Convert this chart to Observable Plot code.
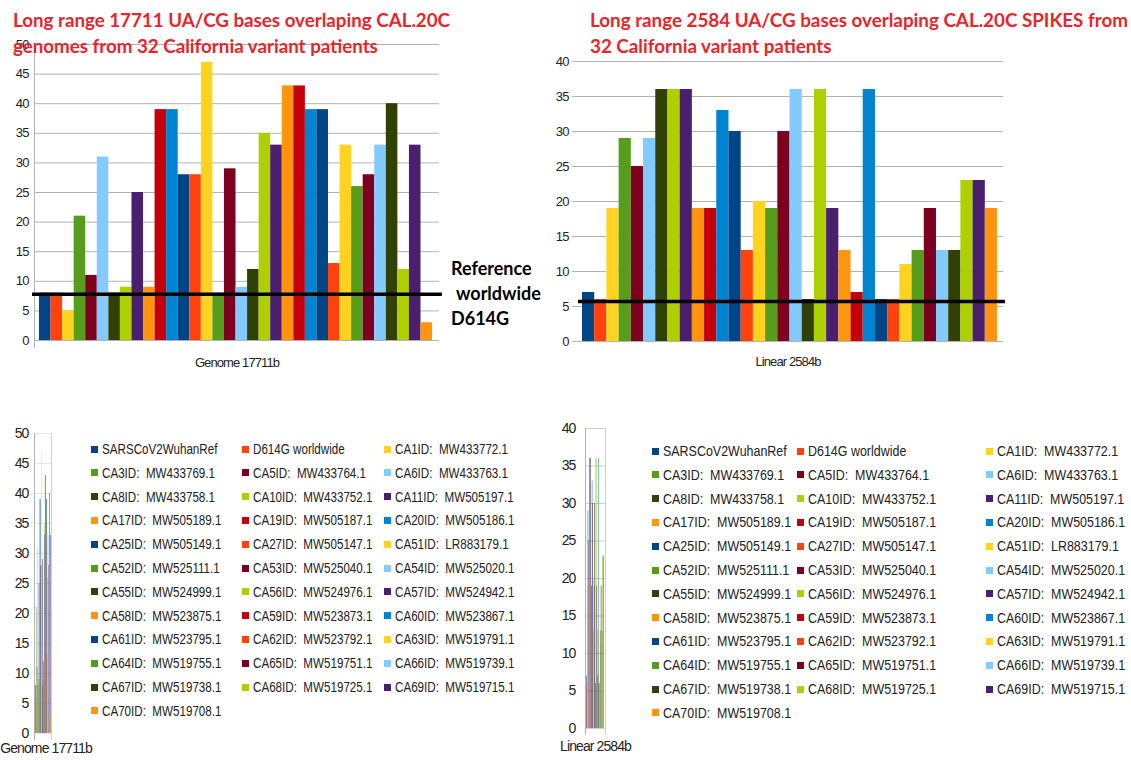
<!DOCTYPE html>
<html>
<head>
<meta charset="utf-8">
<script src="https://cdn.jsdelivr.net/npm/d3@7"></script>
<script src="https://cdn.jsdelivr.net/npm/@observablehq/plot@0.6"></script>
<style>
  html, body { margin: 0; padding: 0; background: #fff; }
  #root { position: relative; width: 1131px; height: 760px; overflow: hidden; background: #fff; }
  .abs { position: absolute; }
  .title { font-family: "Lato", "Open Sans", sans-serif; font-weight: 700; color: #e8252b; font-size: 18px; line-height: 26px; white-space: nowrap; transform-origin: 0 0; }
  .ref { font-family: "Lato", "Open Sans", sans-serif; font-weight: 700; color: #000; font-size: 18px; line-height: 25px; white-space: nowrap; }
  .sw { position: absolute; width: 7px; height: 7px; }
  .lt { position: absolute; font-family: "Liberation Sans", Arial, sans-serif; font-size: 14px; line-height: 16px; color: #222; white-space: pre; transform-origin: 0 50%; }
  svg { overflow: visible; }
</style>
</head>
<body>
<div id="root"></div>
<script>
// ---------- data ----------
const series = [
  "SARSCoV2WuhanRef", "D614G worldwide", "CA1ID:  MW433772.1",
  "CA3ID:  MW433769.1", "CA5ID:  MW433764.1", "CA6ID:  MW433763.1",
  "CA8ID:  MW433758.1", "CA10ID:  MW433752.1", "CA11ID:  MW505197.1",
  "CA17ID:  MW505189.1", "CA19ID:  MW505187.1", "CA20ID:  MW505186.1",
  "CA25ID:  MW505149.1", "CA27ID:  MW505147.1", "CA51ID:  LR883179.1",
  "CA52ID:  MW525111.1", "CA53ID:  MW525040.1", "CA54ID:  MW525020.1",
  "CA55ID:  MW524999.1", "CA56ID:  MW524976.1", "CA57ID:  MW524942.1",
  "CA58ID:  MW523875.1", "CA59ID:  MW523873.1", "CA60ID:  MW523867.1",
  "CA61ID:  MW523795.1", "CA62ID:  MW523792.1", "CA63ID:  MW519791.1",
  "CA64ID:  MW519755.1", "CA65ID:  MW519751.1", "CA66ID:  MW519739.1",
  "CA67ID:  MW519738.1", "CA68ID:  MW519725.1", "CA69ID:  MW519715.1",
  "CA70ID:  MW519708.1"
];
const genome17711 = [8, 8, 5, 21, 11, 31, 8, 9, 25, 9, 39, 39, 28, 28, 47, 8, 29, 9, 12, 35, 33, 43, 43, 39, 39, 13, 33, 26, 28, 33, 40, 12, 33, 3];
const linear2584  = [7, 6, 19, 29, 25, 29, 36, 36, 36, 19, 19, 33, 30, 13, 20, 19, 30, 36, 6, 36, 19, 13, 7, 36, 6, 6, 11, 13, 19, 13, 13, 23, 23, 19];
const ticksGenome = [0, 5, 10, 15, 20, 25, 30, 35, 40, 45, 50];
const ticksLinear = [0, 5, 10, 15, 20, 25, 30, 35, 40];
const refGenome = 7.8;
const refLinear = 5.7;
const labelGenome = "Genome 17711b";
const labelLinear = "Linear 2584b";
const titleGenome = ["Long range 17711 UA/CG bases overlaping CAL.20C", "genomes from 32 California variant patients"];
const titleLinear = ["Long range 2584 UA/CG bases overlaping CAL.20C SPIKES from", "32 California variant patients"];
const refText = ["Reference", "worldwide", "D614G"];
const palette = ["#004586", "#ff420e", "#ffd320", "#579d1c", "#7e0021", "#83caff", "#314004", "#aecf00", "#4b1f6f", "#ff950e", "#c5000b", "#0084d1"];
const colors = series.map((_, i) => palette[i % palette.length]);

// ---------- chart builder ----------
function chart(o) {
  const data = series.map((name, i) => ({name, i, v: o.values[i]}));
  const marks = [];
  marks.push(Plot.gridY(o.ticks, {stroke: o.gridColor, strokeOpacity: 1, strokeWidth: 1}));
  for (const vl of o.vlines) {
    marks.push(Plot.ruleX([vl.x], {x: d => d, y1: () => vl.y1, y2: () => vl.y2, stroke: vl.stroke, strokeWidth: 1}));
  }
  marks.push(Plot.rectY(data, {x1: d => d.i - 0.5, x2: d => d.i + 0.5, y: "v", fill: "name"}));
  marks.push(Plot.axisY(o.ticks, {tickSize: 0, tickPadding: o.tickPadding, label: null, fill: "#222"}));
  if (o.ref != null) {
    marks.push(Plot.ruleY([o.ref], {y: d => d, x1: () => o.refX[0], x2: () => o.refX[1], stroke: "#000", strokeWidth: 3.5}));
  }
  marks.push(Plot.text([o.label], {text: d => d, frameAnchor: "bottom", dx: o.labelDx || 0, dy: o.labelDy, fill: "#222", fontSize: o.labelSize}));
  return Plot.plot({
    width: o.width, height: o.height,
    marginLeft: o.ml, marginRight: o.mr, marginTop: o.mt, marginBottom: o.mb,
    x: {domain: o.xDomain, axis: null},
    y: {domain: [0, o.yMax], axis: null},
    color: {domain: series, range: colors},
    marks,
    style: {fontFamily: "'Liberation Sans', Arial, sans-serif", fontSize: o.fontSize + "px", letterSpacing: "-0.9px", background: "transparent", overflow: "visible"}
  });
}

const root = document.getElementById("root");
function place(el, left, top) {
  const d = document.createElement("div");
  d.className = "abs";
  d.style.left = left + "px";
  d.style.top = top + "px";
  d.appendChild(el);
  root.appendChild(d);
  return d;
}

// Top-left: genome
place(chart({
  values: genome17711, ticks: ticksGenome, yMax: 50,
  width: 445, height: 375, ml: 34, mr: 6, mt: 44, mb: 35,
  xDomain: [-0.93, 34.1], tickPadding: 6, fontSize: 13,
  gridColor: "#b3b3b3",
  vlines: [{x: -0.93, y1: -1.35, y2: 50, stroke: "#b3b3b3"}],
  ref: refGenome, refX: [-1.1, 34.35],
  label: labelGenome, labelDy: 26, labelSize: 13
}), 0, 0);

// Top-right: linear
place(chart({
  values: linear2584, ticks: ticksLinear, yMax: 40,
  width: 581, height: 375, ml: 22, mr: 128, mt: 61, mb: 34,
  xDomain: [-1.32, 33.99], tickPadding: 4, fontSize: 13,
  gridColor: "#b3b3b3",
  vlines: [],
  ref: refLinear, refX: [-0.83, 34.15],
  label: labelLinear, labelDy: 24, labelSize: 13
}), 550, 0);

// Bottom-left: genome mini
place(chart({
  values: genome17711, ticks: ticksGenome, yMax: 50,
  width: 90, height: 340, ml: 34, mr: 39, mt: 13, mb: 27,
  xDomain: [-2.6, 33.5], tickPadding: 6, fontSize: 14,
  gridColor: "#e6e6e6",
  vlines: [{x: -2.6, y1: -1.2, y2: 50, stroke: "#b3b3b3"}, {x: 33.5, y1: -1.2, y2: 50, stroke: "#d0d0d0"}],
  ref: null,
  label: labelGenome, labelDx: 3, labelDy: 19, labelSize: 14
}), 0, 420);

// Bottom-right: linear mini
place(chart({
  values: linear2584, ticks: ticksLinear, yMax: 40,
  width: 100, height: 350, ml: 35, mr: 45, mt: 18, mb: 32,
  xDomain: [-2.4, 35.4], tickPadding: 10, fontSize: 14,
  gridColor: "#cfcfcf",
  vlines: [{x: -2.4, y1: -0.9, y2: 40, stroke: "#b3b3b3"}, {x: 35.4, y1: -0.9, y2: 40, stroke: "#d0d0d0"}],
  ref: null,
  label: labelLinear, labelDy: 22, labelSize: 14
}), 550, 410);

// ---------- titles ----------
function title(lines, left, top, targetWidth) {
  const d = document.createElement("div");
  d.className = "abs title";
  d.style.left = left + "px";
  d.style.top = top + "px";
  lines.forEach(t => { const s = document.createElement("div"); s.textContent = t; d.appendChild(s); });
  root.appendChild(d);
  const probe = document.createElement("span");
  probe.textContent = lines[0];
  probe.style.whiteSpace = "nowrap";
  d.firstChild.textContent = "";
  d.firstChild.appendChild(probe);
  const w = probe.getBoundingClientRect().width;
  d.style.transform = `scaleX(${targetWidth / w})`;
}
title(titleGenome, 13, 7, 437);
title(titleLinear, 590, 7, 538);

// Reference label
refText.forEach((t, k) => {
  const d = document.createElement("div");
  d.className = "abs ref";
  d.textContent = t;
  d.style.left = (k === 1 ? 456 : 451) + "px";
  d.style.top = (256 + k * 25) + "px";
  root.appendChild(d);
});

// ---------- legends ----------
function legend(colX, y0, dy, sx) {
  series.forEach((name, i) => {
    const r = Math.floor(i / 3), c = i % 3;
    const cy = y0 + r * dy;
    const sw = document.createElement("div");
    sw.className = "sw";
    sw.style.background = colors[i];
    sw.style.left = colX[c] + "px";
    sw.style.top = (cy - 3.5) + "px";
    root.appendChild(sw);
    const t = document.createElement("div");
    t.className = "lt";
    t.textContent = name;
    t.style.left = (colX[c] + 11) + "px";
    t.style.top = (cy - 8) + "px";
    t.style.transform = `scaleX(${sx})`;
    root.appendChild(t);
  });
}
legend([91, 242, 384], 449, 23.8, 0.83);
legend([652, 797, 986], 451, 23.8, 0.89);
</script>
</body>
</html>
